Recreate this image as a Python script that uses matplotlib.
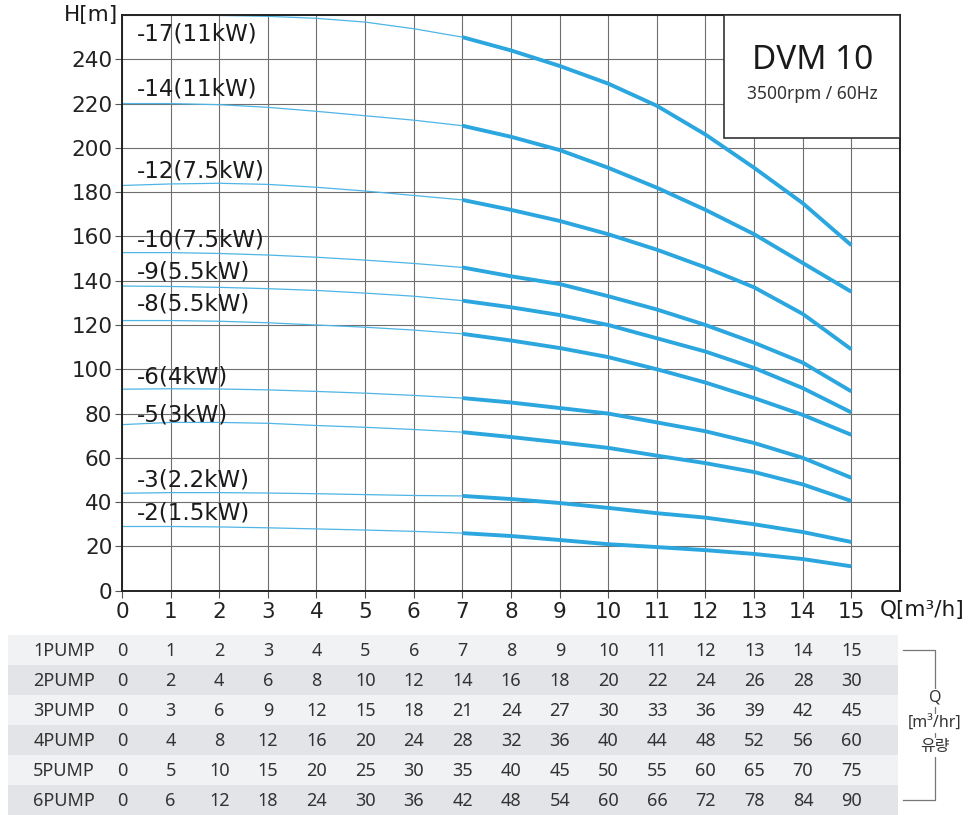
import numpy as np
import matplotlib
matplotlib.use("Agg")
import matplotlib.pyplot as plt
from matplotlib.patches import Rectangle

plt.rcParams['font.family'] = ['DejaVu Sans', 'Noto Sans CJK KR']
table_font = ['Noto Sans', 'Noto Sans CJK KR', 'DejaVu Sans']

# flow rate Q [m3/h] for one pump
flow = list(range(16))

# head H [m] per model
h17 = [260, 260, 259.8, 259.4, 258.5, 256.8, 253.8, 250, 244, 237, 229, 219, 206, 191, 175, 156]
h14 = [220, 220, 219.5, 218.3, 216.5, 214.5, 212.5, 210, 205, 199, 191, 182, 172, 161, 148, 135]
h12 = [183, 183.7, 184, 183.5, 182.2, 180.5, 178.5, 176.5, 172, 167, 161, 154, 146, 137, 125, 109]
h10 = [152.7, 152.7, 152.3, 151.6, 150.6, 149.3, 147.8, 146, 142, 138.5, 133, 127, 120, 112, 103, 90]
h9 = [137.6, 137.4, 137, 136.4, 135.6, 134.4, 133, 131, 128, 124.5, 120, 114, 108, 100.6, 91.5, 80.5]
h8 = [122, 122, 121.7, 121, 120, 119, 117.7, 116, 113, 109.6, 105.5, 100, 94, 87, 79.4, 70.4]
h6 = [91, 91.2, 91.1, 90.7, 90, 89.2, 88.2, 87, 85, 82.5, 80, 76, 72, 66.7, 60, 51]
h5 = [75, 76, 76, 75.6, 74.6, 73.8, 72.8, 71.6, 69.4, 67, 64.5, 61, 57.6, 53.6, 48, 40.5]
h3 = [44, 44.3, 44.3, 44.1, 43.8, 43.4, 43, 42.8, 41.4, 39.6, 37.4, 35, 33, 30, 26.5, 22]
h2 = [29, 29, 28.8, 28.4, 27.9, 27.4, 26.8, 26, 24.7, 22.9, 21, 19.7, 18.3, 16.6, 14.3, 11]

curves = [h17, h14, h12, h10, h9, h8, h6, h5, h3, h2]
labels = ['-17(11kW)', '-14(11kW)', '-12(7.5kW)', '-10(7.5kW)', '-9(5.5kW)',
          '-8(5.5kW)', '-6(4kW)', '-5(3kW)', '-3(2.2kW)', '-2(1.5kW)']
label_h = [251.5, 226.5, 189.5, 158.5, 144, 129.5, 96.5, 79.5, 50, 35]

pumps = ['1PUMP', '2PUMP', '3PUMP', '4PUMP', '5PUMP', '6PUMP']
n_pumps = [1, 2, 3, 4, 5, 6]

W, H = 978, 815
fig = plt.figure(figsize=(W / 100, H / 100), dpi=100)

# chart area in pixels
x0, x1, ytop, ybot = 122, 900, 15, 590.7
ax = fig.add_axes([x0 / W, 1 - ybot / H, (x1 - x0) / W, (ybot - ytop) / H])
ax.set_xlim(0, 16)
ax.set_ylim(0, 260)
ax.set_xticks(range(16))
ax.set_xticks([16], minor=True)
ax.set_yticks(range(0, 260, 20))
ax.set_yticks([260], minor=True)
ax.grid(True, which='both', color='#6e6e6e', lw=0.8)
ax.set_axisbelow(True)
for s in ax.spines.values():
    s.set_linewidth(1.4)
    s.set_color('#222222')
ax.tick_params(axis='both', which='major', labelsize=15.5, length=5, width=0.8,
               color='#555555', labelcolor='#222222')
ax.tick_params(axis='y', pad=2)
ax.tick_params(axis='x', pad=3)
ax.tick_params(which='minor', length=0)

blue = '#2ba6df'
thin_blue = '#4fb5e6'
q = np.array(flow)
for h, lab, lh in zip(curves, labels, label_h):
    h = np.array(h)
    ax.plot(q[:8], h[:8], color=thin_blue, lw=0.9, solid_capstyle='butt')
    ax.plot(q[7:], h[7:], color=blue, lw=2.8, solid_capstyle='butt')
    ax.text(0.3, lh, lab, fontsize=16.5, color='#1a1a1a', va='center', ha='left')

ax.text(-0.08, 260, 'H[m]', fontsize=15.5, ha='right', va='center', color='#1a1a1a')
ax.text(16.45, -4.2, 'Q[m³/h]', fontsize=15.5, ha='center', va='top', color='#1a1a1a',
        clip_on=False)

# model box
ax.add_patch(Rectangle((12.39, 204.6), 16 - 12.39, 260 - 204.6, facecolor='white',
                       edgecolor='#333333', lw=1.2, zorder=5))
ax.text(14.2, 239.5, 'DVM 10', fontsize=24, ha='center', va='center', zorder=6,
        color='#1a1a1a', family=table_font)
ax.text(14.2, 224.5, '3500rpm / 60Hz', fontsize=12.5, ha='center', va='center',
        zorder=6, color='#333333', family=table_font)

# flow table below, x in the same units as the chart
scale = (851.7 - x0) / 15
tb_top = 635
tax = fig.add_axes([0, 0, 1, (H - tb_top) / H])
tax.set_xlim(-x0 / scale, (W - x0) / scale)
tax.set_ylim(len(pumps), 0)
tax.axis('off')
row_colors = ['#f1f2f4', '#e2e4e7']
left = (8 - x0) / scale
right = (898 - x0) / scale
for i, (name, n) in enumerate(zip(pumps, n_pumps)):
    tax.add_patch(Rectangle((left, i), right - left, 1, facecolor=row_colors[i % 2],
                            edgecolor='none'))
    tax.text((64 - x0) / scale, i + 0.55, name, fontsize=13, ha='center', va='center',
             color='#333333', family=table_font)
    for f in flow:
        tax.text(f, i + 0.55, str(f * n), fontsize=13, ha='center', va='center',
                 color='#333333', family=table_font)

# bracket on the right
bx = (935 - x0) / scale
bl = (903 - x0) / scale
tax.plot([bl, bx, bx, bl], [0.5, 0.5, 5.5, 5.5], color='#777777', lw=0.9)
for yy, t in zip([2.1, 2.95, 3.75], ['Q', '[m³/hr]', '유량']):
    tax.text(bx, yy, t, fontsize=11.5, ha='center', va='center', color='#333333',
             family=table_font, bbox=dict(facecolor='white', edgecolor='none', pad=1))

fig.savefig('out.png', dpi=100)
